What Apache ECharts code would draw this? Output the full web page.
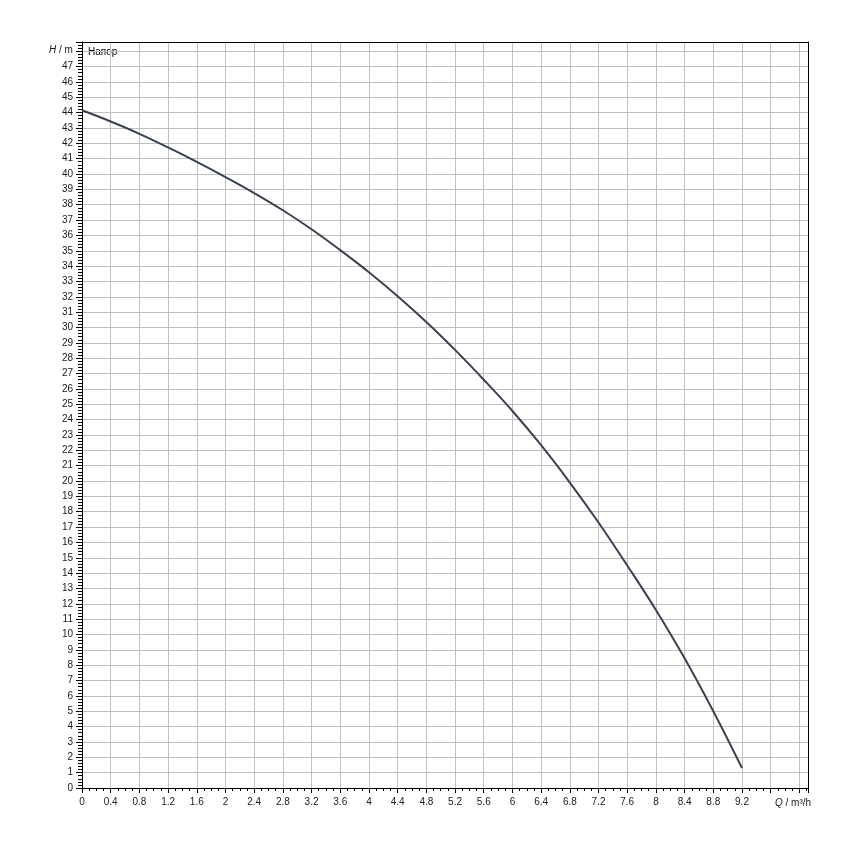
<!DOCTYPE html>
<html>
<head>
<meta charset="utf-8">
<script src="https://cdn.jsdelivr.net/npm/echarts@6/dist/echarts.min.js"></script>
<style>html,body{margin:0;padding:0;background:#fff}#c{width:850px;height:850px}</style>
</head>
<body>
<div id="c"></div>
<script>
const flowQ = [0, 0.4, 0.8, 1.2, 1.6, 2.0, 2.4, 2.8, 3.2, 3.6, 4.0, 4.4, 4.8, 5.2, 5.6, 6.0, 6.4, 6.8, 7.2, 7.6, 8.0, 8.4, 8.8, 9.2];
const headH = [44.15, 43.42, 42.62, 41.73, 40.79, 39.8, 38.76, 37.64, 36.4, 35.04, 33.6, 32.04, 30.36, 28.54, 26.6, 24.56, 22.33, 19.9, 17.3, 14.5, 11.6, 8.45, 5.0, 1.3];
const seriesName = 'Напор';
const xAxisName = 'm³/h';
const yAxisName = 'm';

const chart = echarts.init(document.getElementById('c'), null, {renderer: 'canvas'});
const font = 'Liberation Sans, Arial, sans-serif';
const txtColor = '#1a1a1a';
const frameAxis = {
  axisLine: {show: true, onZero: false, lineStyle: {color: '#000', width: 1}},
  axisTick: {show: false}, axisLabel: {show: false}, splitLine: {show: false}
};
chart.setOption({
  animation: false,
  grid: {left: 82, right: 42, top: 42, bottom: 62, show: false, containLabel: false},
  xAxis: [{
    type: 'value', min: 0, max: 10.12, interval: 0.4, position: 'bottom',
    axisLine: {show: true, onZero: false, lineStyle: {color: '#000', width: 1}},
    axisTick: {show: true, length: 5, lineStyle: {color: '#000'}},
    minorTick: {show: true, splitNumber: 4, length: 3, lineStyle: {color: '#000'}},
    splitLine: {show: true, lineStyle: {color: '#c0c0c0', width: 1}},
    axisLabel: {
      margin: 9, color: txtColor, fontFamily: font, fontSize: 10, showMaxLabel: false,
      formatter: v => (v > 9.3 ? '' : String(Math.round(v * 10) / 10))
    }
  }, Object.assign({type: 'value', min: 0, max: 10.12, position: 'top'}, frameAxis)],
  yAxis: [{
    type: 'value', min: 0, max: 48.6, interval: 1, position: 'left',
    axisLine: {show: true, onZero: false, lineStyle: {color: '#000', width: 1}},
    axisTick: {show: true, length: 6, lineStyle: {color: '#000'}},
    minorTick: {show: true, splitNumber: 5, length: 4, lineStyle: {color: '#000'}},
    splitLine: {show: true, lineStyle: {color: '#c0c0c0', width: 1}},
    axisLabel: {
      margin: 9, color: txtColor, fontFamily: font, fontSize: 10, showMaxLabel: false,
      formatter: v => (v > 47.5 ? '' : String(Math.round(v)))
    }
  }, Object.assign({type: 'value', min: 0, max: 48.6, position: 'right'}, frameAxis)],
  series: [{
    name: seriesName,
    type: 'line',
    xAxisIndex: 0, yAxisIndex: 0,
    data: flowQ.map((q, i) => [q, headH[i]]),
    smooth: 0.4,
    showSymbol: false,
    lineStyle: {color: '#3a4250', width: 2},
    z: 5
  }],
  graphic: [
    {type: 'text', left: 49, top: 45, style: {text: '{i|H} / ' + yAxisName, rich: {i: {fontStyle: 'italic', fontSize: 10, fontFamily: font, fill: txtColor}}, fontSize: 10, fontFamily: font, fill: txtColor}},
    {type: 'text', left: 88, top: 47, style: {text: seriesName, fontSize: 10, fontFamily: font, fill: '#000'}},
    {type: 'text', left: 775, top: 798, style: {text: '{i|Q} / ' + xAxisName, rich: {i: {fontStyle: 'italic', fontSize: 10, fontFamily: font, fill: txtColor}}, fontSize: 10, fontFamily: font, fill: txtColor}}
  ]
});
</script>
</body>
</html>
